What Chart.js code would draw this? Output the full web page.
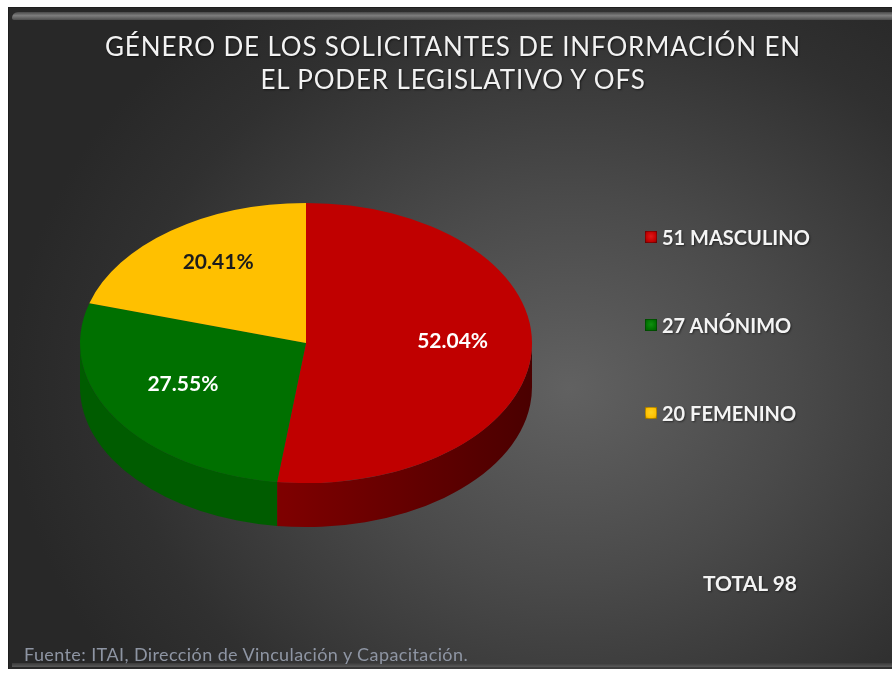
<!DOCTYPE html>
<html>
<head>
<meta charset="utf-8">
<script src="https://cdn.jsdelivr.net/npm/chart.js@4.4.1/dist/chart.umd.min.js"></script>
<style>
    html, body { margin: 0; padding: 0; background: #fff; }
    #wrap { position: relative; width: 892px; height: 675px; overflow: hidden; }
    #panel {
        position: absolute; left: 8px; top: 7px; width: 884px; height: 661px;
        background: radial-gradient(ellipse 560px 480px at 560px 380px, #616161 0%, #4a4a4a 40%, #303030 80%, #282828 100%);
        border-left: 1px solid #1e1e1e; border-top: 1px solid #1e1e1e;
    }
    #topStrip {
        position: absolute; left: 12px; top: 12px; width: 880px; height: 8px;
        border-radius: 6px 0 0 2px;
        background: linear-gradient(#4a4a4a, #7d7d7d 45%, #4d4d4d);
    }
    #bottomStrip {
        position: absolute; left: 12px; top: 663px; width: 880px; height: 4px;
        background: linear-gradient(#3a3a3a, #5a5a5a);
    }
    #chart { position: absolute; left: 0; top: 0; }
    .txt { position: absolute; font-family: Lato, sans-serif; white-space: nowrap; }
    #title {
        left: 0; width: 906px; top: 30px; text-align: center;
        color: #f2f2f2; font-size: 26px; line-height: 33px; letter-spacing: 0.85px;
        text-shadow: 1px 1px 2px rgba(0,0,0,0.6);
    }
    #legend { left: 645px; top: 225px; }
    .item { display: flex; align-items: center; height: 24px; margin-bottom: 64px;
        color: #f4f4f4; font-weight: bold; font-size: 20px; text-shadow: 1px 1px 2px rgba(0,0,0,0.5); }
    .mark { width: 12px; height: 12px; margin-right: 5px; box-shadow: inset 0 0 0 1px rgba(0,0,0,0.25); }
    #total { left: 703px; top: 570px; color: #f4f4f4; font-weight: bold; font-size: 21px;
        text-shadow: 1px 1px 2px rgba(0,0,0,0.5); }
    #source { left: 24px; top: 643px; color: #8e95a3; font-size: 18px; letter-spacing: 0.4px; }
</style>
</head>
<body>
<div id="wrap">
    <div id="panel"></div>
    <div id="topStrip"></div>
    <div id="bottomStrip"></div>
    <canvas id="chart" width="892" height="675"></canvas>
    <div id="title" class="txt">GÉNERO DE LOS SOLICITANTES DE INFORMACIÓN EN<br>EL PODER LEGISLATIVO Y OFS</div>
    <div id="legend" class="txt"></div>
    <div id="total" class="txt"></div>
    <div id="source" class="txt">Fuente: ITAI, Dirección de Vinculación y Capacitación.</div>
</div>
<script>
// Data
const categories = ['MASCULINO', 'ANÓNIMO', 'FEMENINO'];
const values = [51, 27, 20];

// Colours (top face, side light, side dark, label)
const topColors = ['#c00000', '#007000', '#ffc000'];
const sideLight = ['#7e0000', '#005c00', '#b08400'];
const sideDark = ['#4a0000', '#003c00', '#7a5a00'];
const markColors = ['#e01818', '#109010', '#ffd21e'];
const labelColors = ['#ffffff', '#ffffff', '#1c1c1c'];

// 3D look
const TILT = 0.62;     // vertical squash of the pie
const DEPTH = 44;      // side thickness in px
const LABEL_POS = 0.65;
const LABEL_SHIFT = -8;

const total = values.reduce((a, b) => a + b, 0);

// Legend + total
const legendEl = document.getElementById('legend');
legendEl.innerHTML = categories.map((c, i) => `
    <div class="item">
        <span class="mark" style="background: radial-gradient(circle at 50% 45%, ${markColors[i]}, ${topColors[i]} 60%, ${sideLight[i]})"></span>
        <span>${values[i]} ${c}</span>
    </div>`).join('');
document.getElementById('total').textContent = 'TOTAL ' + total;

// Plugin: squash pie to an ellipse and draw the side wall
const pie3d = {
    id: 'pie3d',
    beforeDatasetsDraw(chart) {
        const ctx = chart.ctx;
        const arcs = chart.getDatasetMeta(0).data;
        const { x: cx, y: cy, outerRadius: r } = arcs[0];
        ctx.save();
        ctx.translate(cx, cy);
        ctx.scale(1, TILT);
        ctx.translate(-cx, -cy);
        const d = DEPTH / TILT;
        arcs.forEach((arc, i) => {
            const s = Math.max(arc.startAngle, 0);
            const e = Math.min(arc.endAngle, Math.PI);
            if (e <= s) return;
            const g = ctx.createLinearGradient(cx - r, 0, cx + r, 0);
            g.addColorStop(0, sideLight[i]);
            g.addColorStop(0.45, sideLight[i]);
            g.addColorStop(1, sideDark[i]);
            ctx.beginPath();
            ctx.arc(cx, cy, r, s, e);
            ctx.arc(cx, cy + d, r, e, s, true);
            ctx.closePath();
            ctx.fillStyle = g;
            ctx.fill();
        });
    },
    afterDatasetsDraw(chart) {
        const ctx = chart.ctx;
        ctx.restore();
        const arcs = chart.getDatasetMeta(0).data;
        ctx.font = 'bold 21px Lato';
        ctx.textAlign = 'center';
        ctx.textBaseline = 'middle';
        arcs.forEach((arc, i) => {
            const mid = (arc.startAngle + arc.endAngle) / 2;
            const rr = arc.outerRadius * LABEL_POS;
            const x = arc.x + Math.cos(mid) * rr;
            const y = arc.y + Math.sin(mid) * rr * TILT + LABEL_SHIFT;
            ctx.fillStyle = labelColors[i];
            ctx.fillText((values[i] / total * 100).toFixed(2) + '%', x, y);
        });
    }
};

new Chart(document.getElementById('chart').getContext('2d'), {
    type: 'pie',
    data: {
        labels: categories,
        datasets: [{
            data: values,
            backgroundColor: topColors,
            borderWidth: 0,
            hoverOffset: 0,
            offset: 0,
            clip: false
        }]
    },
    options: {
        responsive: false,
        animation: false,
        events: [],
        layout: { padding: { left: 80, right: 360, top: 117, bottom: 106 } },
        plugins: {
            legend: { display: false },
            title: { display: false },
            tooltip: { enabled: false }
        }
    },
    plugins: [pie3d]
});
</script>
</body>
</html>
